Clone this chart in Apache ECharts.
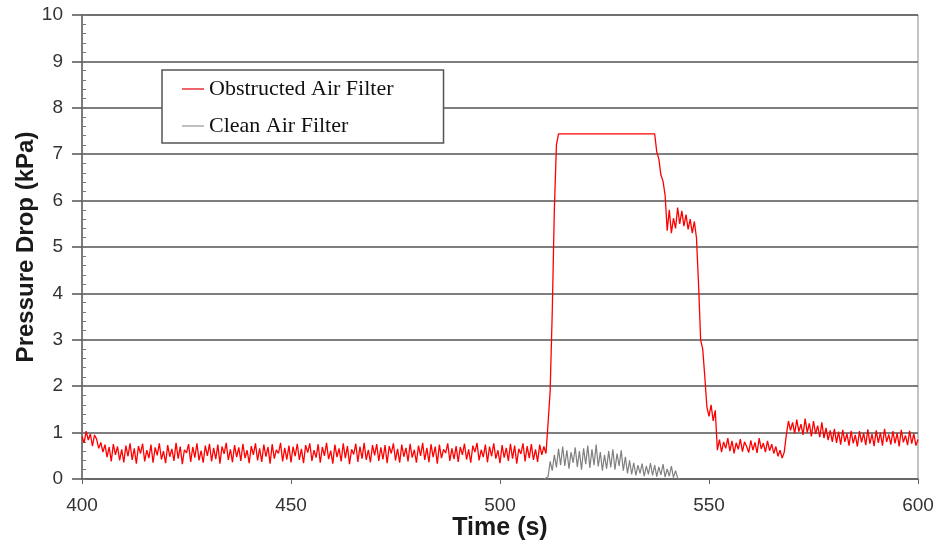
<!DOCTYPE html>
<html>
<head>
<meta charset="utf-8">
<script src="https://cdn.jsdelivr.net/npm/echarts@6/dist/echarts.min.js"></script>
<style>
html,body{margin:0;padding:0;background:#fff;}
#main{width:941px;height:544px;}
</style>
</head>
<body>
<div id="main"></div>
<script>
// sampling of the recorded traces (s)
var sampleStep = 0.5;
var obstructedStart = 400;
var cleanStart = 510.5;

// pressure drop, kPa, one value per 0.5 s
var obstructed = [
  0.92,0.78,1.03,0.84,0.97,0.71,0.95,0.86,0.66,0.79,0.58,0.74,0.47,0.69,0.38,0.75,0.52,0.70,0.40,0.64,
  0.36,0.72,0.49,0.77,0.41,0.66,0.33,0.71,0.55,0.76,0.38,0.62,0.45,0.74,0.35,0.68,0.51,0.77,0.42,0.60,
  0.34,0.73,0.48,0.65,0.39,0.78,0.44,0.70,0.32,0.63,0.56,0.75,0.37,0.69,0.46,0.77,0.40,0.61,0.35,0.72,
  0.50,0.76,0.38,0.67,0.43,0.74,0.33,0.70,0.54,0.78,0.41,0.64,0.36,0.73,0.47,0.68,0.39,0.76,0.45,0.62,
  0.34,0.71,0.52,0.77,0.40,0.66,0.37,0.74,0.48,0.69,0.33,0.75,0.44,0.63,0.55,0.78,0.38,0.67,0.42,0.72,
  0.36,0.70,0.49,0.76,0.41,0.65,0.34,0.73,0.57,0.77,0.39,0.62,0.46,0.75,0.35,0.69,0.50,0.78,0.43,0.61,
  0.33,0.74,0.47,0.66,0.38,0.77,0.45,0.71,0.32,0.64,0.53,0.76,0.37,0.70,0.44,0.78,0.41,0.63,0.36,0.73,
  0.51,0.75,0.39,0.68,0.42,0.73,0.34,0.71,0.55,0.77,0.40,0.65,0.35,0.74,0.48,0.67,0.38,0.76,0.46,0.63,
  0.35,0.72,0.50,0.78,0.41,0.67,0.36,0.75,0.47,0.70,0.33,0.74,0.45,0.64,0.56,0.77,0.39,0.66,0.43,0.71,
  0.37,0.69,0.52,0.76,0.42,0.64,0.35,0.72,0.58,0.78,0.40,0.63,0.47,0.74,0.36,0.70,0.49,0.77,0.44,0.62,
  0.34,0.73,0.46,0.67,0.39,0.76,0.44,0.72,0.33,0.65,0.54,0.77,0.38,0.71,0.45,0.75,0.41,0.64,0.37,0.74,
  0.52,0.70,0.55,1.20,1.90,3.60,5.80,7.20,7.44,7.44,7.44,7.44,7.44,7.44,7.44,7.44,7.44,7.44,7.44,7.44,
  7.44,7.44,7.44,7.44,7.44,7.44,7.44,7.44,7.44,7.44,7.44,7.44,7.44,7.44,7.44,7.44,7.44,7.44,7.44,7.44,
  7.44,7.44,7.44,7.44,7.44,7.44,7.44,7.44,7.44,7.44,7.44,7.44,7.44,7.44,7.44,7.05,6.90,6.55,6.42,6.12,
  5.35,5.80,5.30,5.62,5.40,5.85,5.50,5.78,5.45,5.70,5.38,5.60,5.30,5.55,5.20,4.20,3.00,2.80,2.20,1.55,
  1.35,1.60,1.25,1.48,0.62,0.85,0.58,0.80,0.66,0.88,0.60,0.82,0.55,0.78,0.64,0.86,0.59,0.80,0.70,0.57,
  0.83,0.62,0.79,0.56,0.88,0.65,0.77,0.58,0.82,0.61,0.75,0.55,0.70,0.49,0.62,0.45,0.58,0.95,1.25,1.05,
  1.22,0.98,1.28,1.02,1.18,0.95,1.30,1.00,1.20,0.92,1.25,0.97,1.15,0.90,1.22,0.88,1.10,0.84,1.05,0.80,
  1.08,0.78,1.02,0.74,1.06,0.80,0.98,0.72,1.04,0.77,0.95,0.70,1.03,0.79,0.99,0.73,1.07,0.76,0.97,0.71,
  1.05,0.78,1.00,0.72,1.08,0.80,0.96,0.74,1.03,0.77,0.99,0.70,1.06,0.79,0.94,0.73,1.04,0.76,0.98,0.72,
  0.85
];

var clean = [
  0.00,0.02,0.05,0.38,0.18,0.52,0.25,0.65,0.30,0.70,0.28,0.62,0.22,0.58,0.35,0.68,0.26,0.60,0.20,0.66,
  0.32,0.72,0.24,0.64,0.30,0.74,0.27,0.58,0.18,0.52,0.22,0.60,0.25,0.64,0.20,0.55,0.28,0.62,0.18,0.48,
  0.12,0.40,0.10,0.35,0.08,0.30,0.12,0.33,0.06,0.28,0.10,0.34,0.08,0.30,0.05,0.26,0.09,0.32,0.04,0.22,
  0.06,0.28,0.03,0.18,0.02,0.00
];

var xTicks = [400, 450, 500, 550, 600];
var seriesNames = ['Obstructed Air Filter', 'Clean Air Filter'];

function toPairs(start, values) {
  var out = [];
  for (var i = 0; i < values.length; i++) {
    out.push([start + i * sampleStep, values[i]]);
  }
  return out;
}

var myChart = echarts.init(document.getElementById('main'));

var options = {
  animation: false,
  backgroundColor: '#fff',
  grid: {
    left: 82, right: 23, top: 15, bottom: 65,
    outerBoundsMode: 'none',
    show: true, borderColor: '#888', borderWidth: 1
  },
  legend: {
    orient: 'vertical',
    left: 162, top: 70,
    icon: 'rect',
    itemWidth: 22, itemHeight: 1.5,
    itemGap: 15,
    padding: [8, 50, 6, 20],
    backgroundColor: '#fff',
    borderColor: '#555', borderWidth: 1.5, borderRadius: 0,
    textStyle: { fontFamily: 'Liberation Serif', fontSize: 22, color: '#111', lineHeight: 22 },
    data: [
      { name: seriesNames[0], itemStyle: { color: '#e8303a' } },
      { name: seriesNames[1], itemStyle: { color: '#aaa' } }
    ]
  },
  xAxis: {
    type: 'value',
    min: xTicks[0], max: xTicks[xTicks.length - 1], interval: 50,
    name: 'Time (s)', nameLocation: 'middle', nameGap: 37,
    nameMoveOverlap: false,
    nameTextStyle: { fontFamily: 'Liberation Sans', fontSize: 25, fontWeight: 'bold', color: '#1a1a1a' },
    axisLine: { lineStyle: { color: '#666', width: 1.5 } },
    axisTick: { show: true, length: 5, lineStyle: { color: '#666' } },
    axisLabel: { fontFamily: 'Liberation Sans', fontSize: 19, color: '#333', margin: 17 },
    splitLine: { show: false }
  },
  yAxis: [{
    type: 'value',
    min: 0, max: 10, interval: 1,
    name: 'Pressure Drop (kPa)', nameLocation: 'middle', nameGap: 44,
    nameMoveOverlap: false,
    nameTextStyle: { fontFamily: 'Liberation Sans', fontSize: 24, fontWeight: 'bold', color: '#1a1a1a' },
    axisLine: { show: true, lineStyle: { color: '#666', width: 1.5 } },
    axisTick: { show: true, length: 10, lineStyle: { color: '#555', width: 1.5 } },
    axisLabel: { fontFamily: 'Liberation Sans', fontSize: 19, color: '#333', margin: 19 },
    splitLine: { show: true, lineStyle: { color: '#555', width: 1.5 } }
  }, {
    type: 'value',
    position: 'left',
    min: 0, max: 10, interval: 0.2,
    axisLine: { show: false },
    axisTick: { show: true, inside: true, length: 4, lineStyle: { color: '#777' } },
    axisLabel: { show: false },
    splitLine: { show: false }
  }],
  series: [{
    name: seriesNames[0],
    type: 'line',
    yAxisIndex: 0,
    showSymbol: false,
    symbol: 'none',
    lineStyle: { color: '#f00', width: 1.3 },
    itemStyle: { color: '#f00' },
    data: toPairs(obstructedStart, obstructed),
    z: 3
  }, {
    name: seriesNames[1],
    type: 'line',
    yAxisIndex: 0,
    showSymbol: false,
    symbol: 'none',
    lineStyle: { color: '#808080', width: 1.2 },
    itemStyle: { color: '#999' },
    data: toPairs(cleanStart, clean),
    z: 2
  }]
};

myChart.setOption(options);
</script>
</body>
</html>
